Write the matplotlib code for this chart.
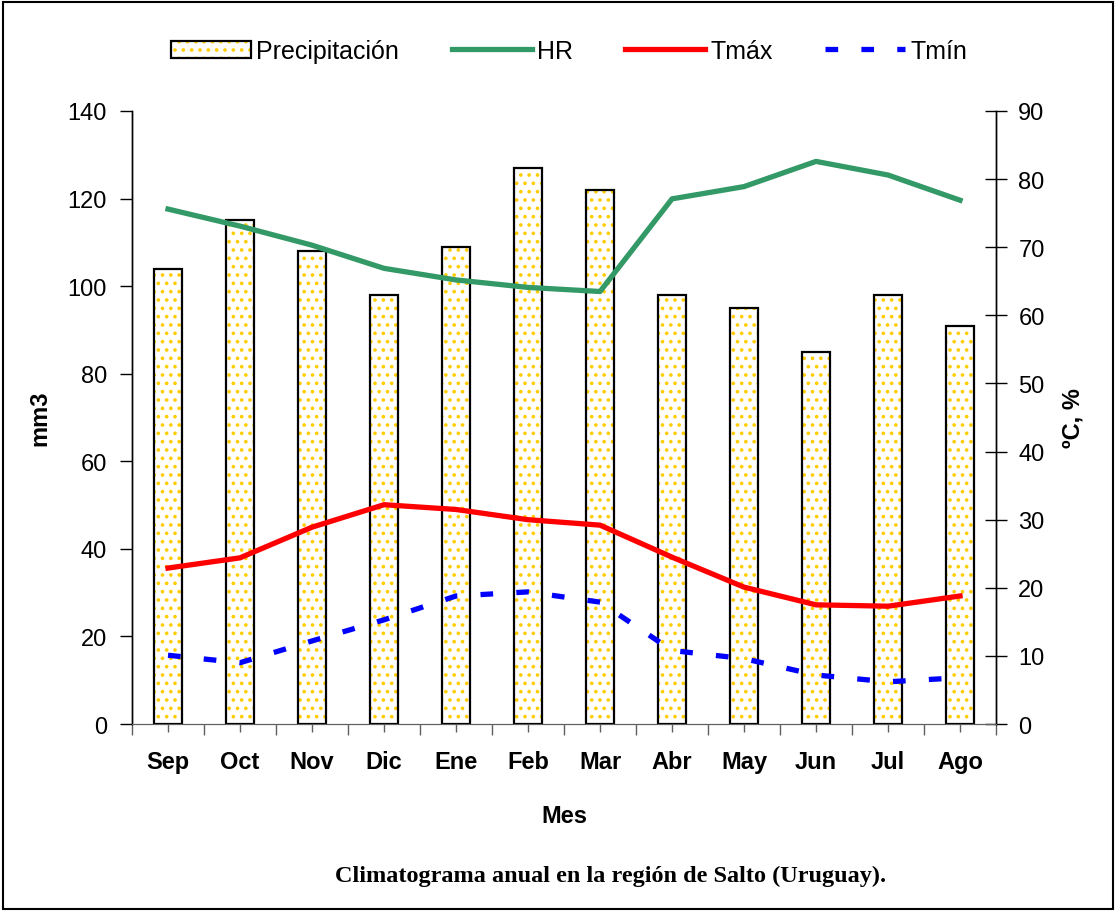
import matplotlib
matplotlib.use('Agg')

import matplotlib.pyplot as plt
import matplotlib.patches as mpatches
from matplotlib.ticker import MultipleLocator, FixedLocator

meses = ["Sep", "Oct", "Nov", "Dic", "Ene", "Feb",
         "Mar", "Abr", "May", "Jun", "Jul", "Ago"]
precipitacion = [104, 115, 108, 98, 109, 127, 122, 98, 95, 85, 98, 91]   # mm
hr   = [75.6, 73.1, 70.3, 66.9, 65.2, 64.1, 63.5, 77.1, 78.9, 82.6, 80.6, 76.9]
tmax = [22.9, 24.4, 28.9, 32.2, 31.5, 30.0, 29.2, 24.5, 20.1, 17.5, 17.3, 18.8]
tmin = [10.1, 9.0, 12.2, 15.3, 18.8, 19.4, 17.9, 10.8, 9.6, 7.2, 6.2, 6.8]

AMARILLO = "#FFCC00"
VERDE    = "#339966"
FS = 17

plt.rcParams["font.family"] = ["Liberation Sans", "DejaVu Sans"]
plt.rcParams["hatch.linewidth"] = 1.4

fig = plt.figure(figsize=(11.16, 9.12), dpi=100)
ax = fig.add_axes([0.1183, 0.2050, 0.7742, 0.6722])
ax2 = ax.twinx()

x = list(range(len(meses)))

# barras: relleno punteado amarillo + contorno negro
ax.bar(x, precipitacion, width=0.4, facecolor="white", edgecolor=AMARILLO,
       hatch="..", linewidth=0, zorder=2)
ax.bar(x, precipitacion, width=0.4, fill=False, edgecolor="black",
       linewidth=1.6, zorder=3)

ax2.plot(x, hr, color=VERDE, linewidth=3.8)
ax2.plot(x, tmax, color="red", linewidth=3.8)
ax2.plot(x, tmin, color="blue", linewidth=3.8, linestyle=(0, (2.4, 4.4)),
         dash_capstyle="butt")

ax.set_xlim(-0.5, 11.5)
ax.set_ylim(0, 140)
ax2.set_ylim(0, 90)
ax.yaxis.set_major_locator(MultipleLocator(20))
ax2.yaxis.set_major_locator(MultipleLocator(10))

ax.set_xticks(x)
ax.set_xticklabels(meses, fontsize=FS, fontweight="bold")
ax.xaxis.set_minor_locator(FixedLocator([i - 0.5 for i in range(13)]))
ax.tick_params(axis="x", which="major", length=6, width=1, color="#606060", pad=13)
ax.tick_params(axis="x", which="minor", length=8, width=1, color="#606060")
ax.tick_params(axis="y", length=9, width=1, labelsize=FS, pad=9)
ax2.tick_params(axis="y", direction="inout", length=16, width=1,
                labelsize=FS, pad=8)

for a in (ax, ax2):
    a.spines["top"].set_visible(False)
    a.spines["left"].set_linewidth(1)
    a.spines["right"].set_linewidth(1)
    a.spines["bottom"].set_color("#606060")
    a.set_facecolor("none")

ax.set_xlabel("Mes", fontsize=FS, fontweight="bold", labelpad=22)
ax.set_ylabel("mm3", fontsize=FS, fontweight="bold", labelpad=12)
ax2.set_ylabel("ºC, %", fontsize=FS, fontweight="bold", labelpad=12)

# leyenda superior
p_relleno = mpatches.Patch(facecolor="white", edgecolor=AMARILLO, hatch="..",
                           linewidth=0)
p_borde = mpatches.Patch(fill=False, edgecolor="black", linewidth=1.6)
h_hr, = ax2.plot([], [], color=VERDE, linewidth=3.8)
h_tmax, = ax2.plot([], [], color="red", linewidth=3.8)
h_tmin, = ax2.plot([], [], color="blue", linewidth=3.8,
                   linestyle=(0, (2.4, 4.4)), dash_capstyle="butt")
fig.legend([(p_relleno, p_borde), h_hr, h_tmax, h_tmin],
           ["Precipitación", "HR", "Tmáx", "Tmín"],
           loc="center", bbox_to_anchor=(0.510, 1 - 52 / 912), ncol=4,
           frameon=False, fontsize=18, handlelength=3.2, handletextpad=0.2,
           columnspacing=2.1)

fig.text(0.547, 1 - 876 / 912,
         "Climatograma anual en la región de Salto (Uruguay).",
         ha="center", va="center", fontsize=17.5, fontweight="bold",
         family=["Liberation Serif", "DejaVu Serif"])

# marco exterior
fig.patches.append(mpatches.Rectangle((3 / 1116, 2 / 912), 1110 / 1116, 907 / 912,
                                      transform=fig.transFigure, fill=False,
                                      edgecolor="black", linewidth=1.5))

fig.savefig("out.png", dpi=100)
